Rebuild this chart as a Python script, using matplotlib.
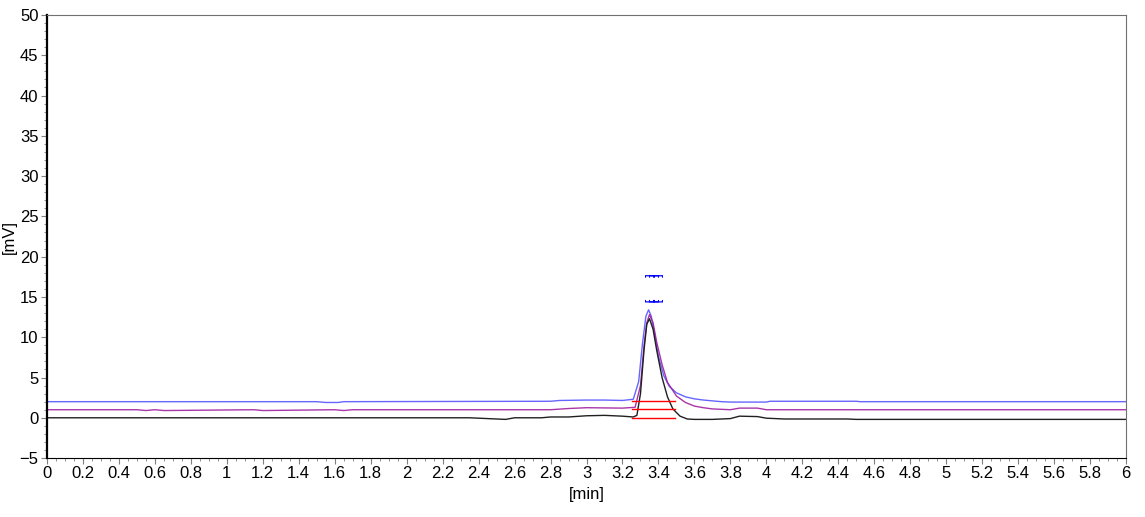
import matplotlib
matplotlib.use("Agg")
import numpy as np
from matplotlib import pyplot as plt
from matplotlib.ticker import MultipleLocator

plt.rcParams["font.family"] = ["Liberation Sans", "DejaVu Sans"]

# trace points (time in min, signal in mV)
t_blue = [0, 1.5, 1.55, 1.62, 1.65, 2.8, 2.85, 3.0, 3.1, 3.2, 3.26, 3.29, 3.31, 3.33, 3.345,
          3.36, 3.38, 3.40, 3.43, 3.46, 3.50, 3.55, 3.60, 3.65, 3.70, 3.75, 3.80, 4.0, 4.02,
          4.5, 4.52, 4.55, 6.0]
v_blue = [2.0, 2.0, 1.9, 1.9, 2.0, 2.05, 2.15, 2.2, 2.2, 2.15, 2.3, 4.5, 9.0, 12.6, 13.4,
          12.6, 10.2, 7.6, 5.2, 3.9, 3.1, 2.6, 2.35, 2.2, 2.1, 2.0, 1.95, 1.95, 2.05,
          2.05, 2.0, 2.0, 2.0]

t_purple = [0, 0.5, 0.55, 0.6, 0.65, 1.15, 1.2, 1.6, 1.65, 1.7, 2.8, 2.9, 3.0, 3.2, 3.27,
            3.30, 3.32, 3.335, 3.35, 3.37, 3.39, 3.42, 3.45, 3.50, 3.55, 3.60, 3.65, 3.70,
            3.75, 3.8, 3.85, 3.95, 4.0, 6.0]
v_purple = [1.0, 1.0, 0.9, 1.0, 0.9, 1.0, 0.9, 1.0, 0.9, 1.0, 1.0, 1.15, 1.25, 1.2, 1.3,
            4.0, 9.0, 11.8, 12.8, 11.8, 9.4, 6.6, 4.4, 2.7, 1.9, 1.45, 1.25, 1.1,
            1.05, 1.0, 1.2, 1.2, 1.0, 1.0]

t_black = [0, 2.35, 2.45, 2.55, 2.6, 2.75, 2.8, 2.9, 3.0, 3.1, 3.2, 3.26, 3.28, 3.30, 3.32,
           3.335, 3.35, 3.37, 3.39, 3.42, 3.45, 3.48, 3.52, 3.56, 3.60, 3.70, 3.80, 3.85,
           3.95, 4.0, 4.1, 4.45, 4.5, 6.0]
v_black = [0.0, 0.0, -0.1, -0.2, 0.0, 0.0, 0.1, 0.1, 0.25, 0.3, 0.2, 0.1, 0.3, 3.0, 8.5,
           11.6, 12.3, 11.0, 8.4, 5.0, 2.6, 1.1, 0.2, -0.15, -0.2, -0.2, -0.1, 0.2,
           0.15, -0.05, -0.15, -0.15, -0.2, -0.2]

# integration baselines under the peak
base_t = [3.255, 3.49]
base_levels = [2.1, 1.1, 0.0]

# three overlapping peak labels, drawn as one rotated block
peak_labels = ["[        ]", "[        ]", "[        ]"]
peak_label_t = 3.383
peak_label_y = 16.1

fig = plt.figure(figsize=(11.45, 5.17), dpi=100)
ax = fig.add_axes([0.041, 0.114, 0.9425, 0.857])

ax.plot(t_blue, v_blue, color="#4040ff", lw=1.0, alpha=0.8)
ax.plot(t_purple, v_purple, color="#a020a0", lw=1.0, alpha=0.9)
ax.plot(t_black, v_black, color="#202020", lw=1.0)
for lvl in base_levels:
    ax.plot(base_t, [lvl, lvl], color="#ff0000", lw=1.0)

ax.text(peak_label_t, peak_label_y, "\n".join(peak_labels), rotation=90, color="#0000ff",
        fontsize=7, fontweight="bold", ha="center", va="center", linespacing=0.25)

ax.set_xlim(0, 6)
ax.set_ylim(-5, 50)
ax.xaxis.set_minor_locator(MultipleLocator(0.05))
ax.yaxis.set_major_locator(MultipleLocator(5))
ax.yaxis.set_minor_locator(MultipleLocator(1))
xt = np.round(np.arange(0, 6.01, 0.2), 1)
ax.set_xticks(xt)
ax.set_xticklabels([f"{x:g}" for x in xt])

ax.tick_params(axis="both", which="major", direction="out", length=4, labelsize=12, pad=2,
               color="#808080")
ax.tick_params(axis="both", which="minor", direction="out", length=2, color="#808080")

ax.spines["left"].set_linewidth(1.6)
ax.spines["left"].set_color("black")
ax.spines["bottom"].set_color("black")
ax.spines["top"].set_color("#707070")
ax.spines["right"].set_color("#707070")

ax.set_xlabel("[min]", fontsize=12, labelpad=4)
ax.set_ylabel("[mV]", fontsize=12, labelpad=2)

fig.savefig("out.png", dpi=100)
